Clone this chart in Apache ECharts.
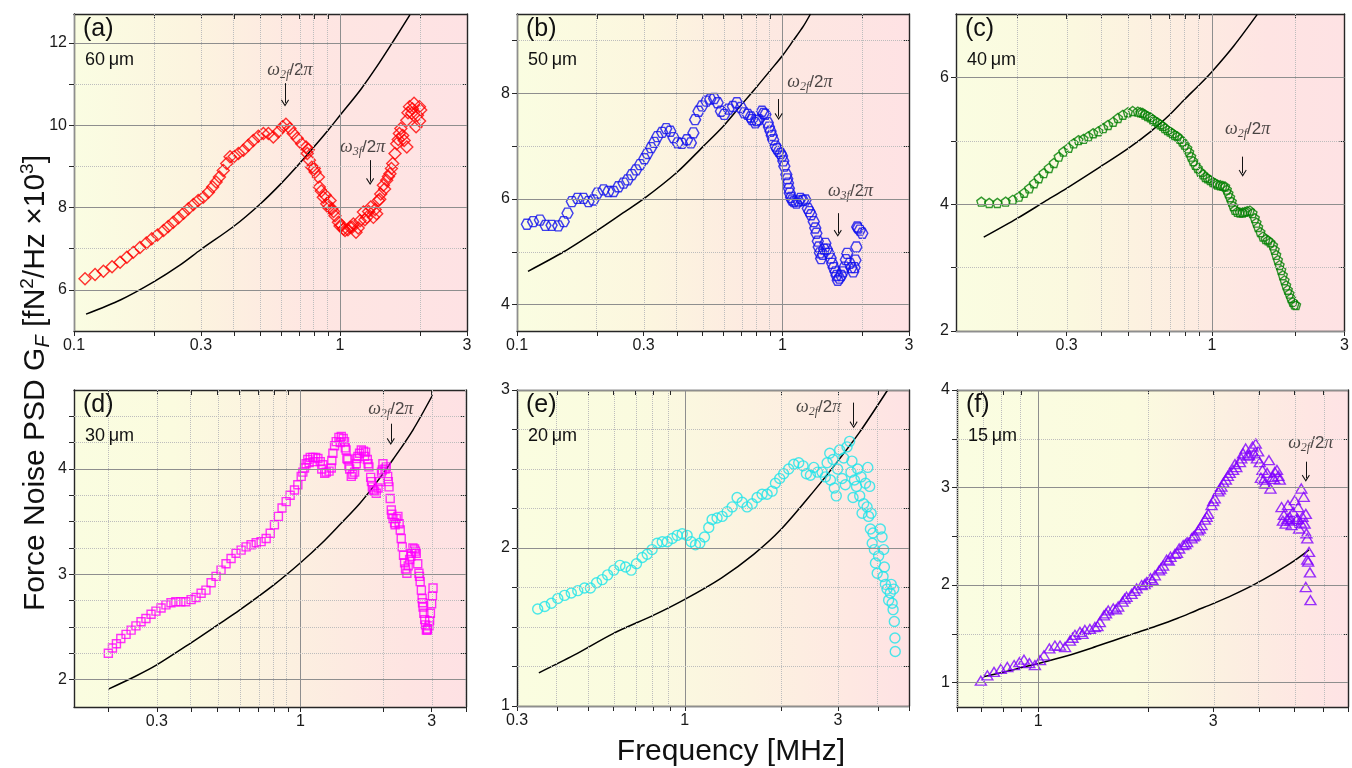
<!DOCTYPE html>
<html>
<head>
<meta charset="utf-8">
<script src="https://cdn.jsdelivr.net/npm/echarts@6/dist/echarts.min.js"></script>
<style>
  html, body { margin: 0; padding: 0; background: #ffffff; }
  #chart { width: 1352px; height: 768px; }
</style>
</head>
<body>
<div id="chart"></div>
<script>
// ---------- measured force-noise spectra: [frequency (MHz), G_F (fN^2/Hz x10^3)] ----------
const psd60um = [
  [0.110,6.27],[0.120,6.37],[0.129,6.45],[0.139,6.56],[0.149,6.67],[0.158,6.79],[0.167,6.91],[0.177,7.03],
  [0.187,7.14],[0.196,7.24],[0.206,7.33],[0.217,7.44],[0.226,7.54],[0.236,7.64],[0.247,7.75],[0.258,7.86],
  [0.269,7.97],[0.281,8.07],[0.293,8.17],[0.306,8.25],[0.320,8.37],[0.332,8.50],[0.342,8.62],[0.352,8.74],
  [0.364,8.90],[0.375,9.07],[0.386,9.23],[0.400,9.24],[0.415,9.31],[0.433,9.39],[0.452,9.51],[0.472,9.63],
  [0.493,9.73],[0.515,9.80],[0.538,9.80],[0.561,9.71],[0.586,9.84],[0.608,9.96],[0.626,10.02],[0.648,9.92],
  [0.667,9.80],[0.690,9.68],[0.717,9.55],[0.745,9.47],[0.753,9.31],[0.767,9.15],[0.783,8.98],[0.806,8.86],
  [0.829,8.74],[0.836,8.50],[0.865,8.25],[0.891,8.09],[0.917,8.17],[0.931,7.97],[0.957,7.80],[0.986,7.64],
  [1.014,7.56],[1.044,7.44],[1.091,7.52],[1.122,7.60],[1.148,7.40],[1.189,7.68],[1.224,7.89],[1.260,7.76],
  [1.304,8.01],[1.334,7.76],[1.373,7.85],[1.393,8.17],[1.422,8.33],[1.455,8.54],[1.497,8.66],[1.540,8.82],
  [1.577,9.07],[1.609,9.31],[1.633,9.55],[1.671,9.80],[1.692,9.92],[1.741,9.63],[1.782,9.47],[1.782,10.12],
  [1.824,10.45],[1.859,10.29],[1.897,10.53],[1.931,9.96],[1.954,10.24],[1.988,10.45],[2.010,10.37],
  [0.760,9.40],[0.800,8.95],[0.850,8.40],[0.880,8.30],[0.905,8.00],[0.945,7.90],[1.000,7.55],[1.030,7.48],
  [1.070,7.46],[1.110,7.52],[1.170,7.50],[1.240,7.70],[1.280,7.90],[1.355,7.95],[1.410,8.20],[1.470,8.45],
  [1.520,8.75],[1.560,8.95],[1.655,9.65],[1.720,9.75],[1.800,10.30],[1.870,10.40],[1.990,10.10]
];
const psd50um = [
  [0.109,5.52],[0.115,5.57],[0.122,5.60],[0.128,5.50],[0.135,5.50],[0.143,5.49],[0.150,5.57],[0.155,5.73],
  [0.161,5.95],[0.169,6.01],[0.178,6.01],[0.186,5.95],[0.194,5.98],[0.201,6.11],[0.212,6.17],[0.221,6.14],
  [0.231,6.14],[0.241,6.23],[0.252,6.30],[0.261,6.36],[0.271,6.46],[0.281,6.55],[0.291,6.65],[0.302,6.76],
  [0.310,6.86],[0.320,6.97],[0.329,7.07],[0.338,7.18],[0.352,7.26],[0.365,7.33],[0.378,7.28],[0.389,7.16],
  [0.403,7.06],[0.418,7.05],[0.437,7.12],[0.452,7.06],[0.462,7.25],[0.469,7.50],[0.483,7.66],[0.498,7.76],
  [0.517,7.85],[0.535,7.89],[0.553,7.90],[0.570,7.82],[0.587,7.66],[0.604,7.60],[0.627,7.70],[0.651,7.75],
  [0.674,7.82],[0.698,7.73],[0.719,7.63],[0.740,7.60],[0.769,7.50],[0.791,7.44],[0.815,7.50],[0.838,7.66],
  [0.863,7.60],[0.881,7.44],[0.902,7.28],[0.923,7.12],[0.942,7.00],[0.969,6.90],[0.997,6.81],[1.017,6.62],
  [1.035,6.46],[1.050,6.30],[1.066,6.11],[1.088,5.98],[1.105,5.95],[1.130,5.92],[1.150,5.96],[1.170,6.01],
  [1.195,5.97],[1.222,5.98],[1.247,5.82],[1.265,5.76],[1.283,5.70],[1.313,5.57],[1.330,5.45],[1.343,5.35],
  [1.371,5.09],[1.385,4.98],[1.399,4.87],[1.420,4.95],[1.452,5.16],[1.470,5.05],[1.495,4.97],[1.540,4.78],
  [1.560,4.70],[1.585,4.62],[1.617,4.46],[1.640,4.50],[1.666,4.55],[1.690,4.62],[1.715,4.71],[1.735,4.85],
  [1.754,4.97],[1.795,4.78],[1.820,4.70],[1.849,4.62],[1.870,4.70],[1.885,4.84],[1.901,5.09],[1.914,5.47],
  [1.930,5.45],[1.958,5.41],[2.000,5.35],
  [0.760,7.55],[0.800,7.48],[0.850,7.62],[0.890,7.36],[0.912,7.20],[0.955,6.95],[0.985,6.86],[1.008,6.72],
  [1.043,6.38],[1.058,6.20],[1.078,6.03],[1.360,5.20],[1.435,5.05],[1.520,4.88],[1.600,4.55]
];
const psd40um = [
  [0.148,4.04],[0.158,4.02],[0.169,4.02],[0.181,4.04],[0.192,4.07],[0.202,4.12],[0.211,4.18],[0.220,4.25],
  [0.229,4.33],[0.238,4.41],[0.248,4.49],[0.259,4.57],[0.270,4.65],[0.281,4.75],[0.292,4.83],[0.305,4.89],
  [0.318,4.96],[0.331,5.01],[0.345,5.03],[0.359,5.07],[0.374,5.12],[0.390,5.15],[0.406,5.20],[0.423,5.25],
  [0.441,5.30],[0.459,5.36],[0.478,5.41],[0.498,5.45],[0.519,5.47],
  [0.541,5.46],[0.553,5.45],[0.563,5.44],[0.574,5.415],[0.587,5.39],[0.600,5.37],[0.612,5.34],[0.623,5.315],
  [0.637,5.29],[0.651,5.26],[0.664,5.235],[0.677,5.20],[0.692,5.17],[0.707,5.145],[0.721,5.12],[0.735,5.09],
  [0.751,5.07],[0.767,5.03],[0.782,4.99],[0.797,4.94],[0.815,4.88],[0.828,4.82],[0.842,4.75],[0.856,4.68],
  [0.872,4.62],[0.889,4.57],[0.909,4.51],[0.929,4.47],[0.947,4.43],[0.965,4.41],[0.986,4.38],[1.008,4.35],
  [1.028,4.33],[1.047,4.31],[1.071,4.30],[1.094,4.29],[1.115,4.28],[1.131,4.23],[1.146,4.17],[1.162,4.11],
  [1.178,4.04],[1.194,3.97],[1.211,3.91],[1.234,3.88],[1.261,3.87],[1.289,3.87],[1.314,3.88],[1.339,3.89],
  [1.369,3.90],[1.399,3.86],[1.426,3.78],[1.446,3.71],[1.466,3.64],[1.494,3.56],[1.527,3.49],[1.561,3.45],
  [1.591,3.43],[1.622,3.40],[1.658,3.35],[1.681,3.28],[1.703,3.20],[1.727,3.12],[1.751,3.04],[1.775,2.96],
  [1.799,2.88],[1.824,2.80],[1.849,2.72],[1.874,2.65],[1.900,2.59],[1.926,2.52],[1.953,2.46],[1.980,2.42],
  [2.007,2.41]
];
const psd30um = [
  [0.200,2.25],[0.207,2.30],[0.214,2.34],[0.222,2.39],[0.232,2.43],[0.242,2.47],[0.252,2.51],[0.263,2.55],
  [0.274,2.58],[0.286,2.62],[0.298,2.65],[0.311,2.68],[0.324,2.71],[0.338,2.73],[0.352,2.74],[0.367,2.74],
  [0.383,2.74],[0.400,2.76],[0.417,2.78],[0.435,2.82],[0.453,2.85],[0.473,2.92],[0.493,2.98],[0.514,3.04],
  [0.536,3.10],[0.559,3.15],[0.583,3.20],[0.608,3.23],[0.634,3.26],[0.661,3.28],[0.690,3.30],[0.719,3.31],
  [0.750,3.34],[0.776,3.39],[0.804,3.47],[0.831,3.55],[0.857,3.63],[0.887,3.69],[0.917,3.75],[0.951,3.80],
  [0.978,3.85],[1.006,3.93],[1.034,4.01],[1.063,4.09],[1.085,4.11],[1.109,4.11],[1.135,4.11],[1.157,4.10],
  [1.180,4.07],[1.206,4.04],[1.241,3.97],[1.270,3.98],[1.294,4.01],[1.312,4.15],[1.330,4.22],[1.349,4.26],
  [1.380,4.30],[1.407,4.31],[1.430,4.29],[1.446,4.26],[1.465,4.18],[1.487,4.09],[1.510,4.00],[1.530,3.93],
  [1.574,3.97],[1.595,4.05],[1.618,4.12],[1.664,4.18],[1.695,4.17],[1.725,4.16],[1.750,4.09],[1.774,4.02],
  [1.800,3.92],[1.825,3.83],[1.860,3.79],[1.887,3.77],[1.940,3.88],[1.970,3.97],[1.995,4.05],[2.052,4.02],
  [2.075,3.93],[2.099,3.83],[2.120,3.72],[2.139,3.61],[2.170,3.53],[2.199,3.49],[2.230,3.53],[2.261,3.55],
  [2.306,3.42],[2.325,3.34],[2.345,3.26],[2.370,3.18],[2.391,3.11],[2.438,3.01],[2.465,3.08],[2.494,3.14],
  [2.530,3.20],[2.564,3.25],[2.600,3.24],[2.637,3.20],[2.670,3.10],[2.697,3.01],[2.725,2.93],[2.752,2.85],
  [2.770,2.77],[2.791,2.69],[2.810,2.63],[2.830,2.57],[2.850,2.52],[2.870,2.47],[2.900,2.48],[2.933,2.51],
  [2.969,2.63],[3.000,2.72],[3.020,2.79],[3.035,2.87],
  [1.020,3.97],[1.048,4.05],[1.075,4.06],[1.120,4.07],[1.195,4.00],[1.225,3.96],[1.300,4.08],[1.395,4.25],
  [1.455,4.20],[1.475,4.10],[1.500,4.03],[1.550,3.95],[1.605,4.10],[1.640,4.15],[1.710,4.12],[1.762,4.05],
  [1.812,3.88],[1.840,3.80],[1.915,3.82],[1.985,3.99],[2.030,4.00],[2.087,3.88],[2.150,3.57],[2.210,3.47],
  [2.285,3.48],[2.410,3.05],[2.520,3.17],[2.620,3.22],[2.710,2.98],[2.780,2.73],[2.890,2.47],[2.950,2.56]
];
const psd20um = [
  [0.348,1.614],[0.366,1.63],[0.384,1.65],[0.402,1.68],[0.422,1.70],[0.443,1.715],[0.464,1.73],[0.487,1.747],
  [0.508,1.747],[0.531,1.78],[0.553,1.80],[0.575,1.83],[0.601,1.86],[0.628,1.89],[0.654,1.88],[0.681,1.86],
  [0.707,1.90],[0.737,1.94],[0.764,1.96],[0.791,1.99],[0.820,2.03],[0.851,2.04],[0.882,2.04],[0.914,2.06],
  [0.947,2.08],[0.982,2.09],[1.017,2.08],[1.047,2.04],[1.080,2.02],[1.114,2.03],[1.152,2.07],[1.188,2.13],
  [1.217,2.18],[1.261,2.19],[1.308,2.20],[1.356,2.23],[1.405,2.26],[1.456,2.32],[1.510,2.29],[1.564,2.26],
  [1.622,2.28],[1.681,2.32],[1.742,2.34],[1.806,2.34],[1.872,2.36],[1.917,2.41],[1.977,2.44],[2.033,2.47],
  [2.108,2.50],[2.186,2.53],[2.266,2.54],[2.337,2.52],[2.394,2.47],[2.464,2.46],[2.525,2.51],[2.596,2.48],
  [2.679,2.48],[2.743,2.45],[2.778,2.54],[2.831,2.60],[2.845,2.43],[2.898,2.56],[2.925,2.38],[2.967,2.33],
  [2.995,2.50],[3.040,2.62],[3.093,2.44],[3.129,2.57],[3.166,2.40],[3.205,2.64],[3.265,2.675],[3.297,2.48],
  [3.320,2.55],[3.346,2.32],[3.380,2.43],[3.430,2.39],[3.460,2.50],[3.510,2.33],[3.545,2.45],[3.570,2.22],
  [3.610,2.28],[3.660,2.41],[3.700,2.26],[3.720,2.51],[3.740,2.20],[3.770,2.39],[3.790,2.12],[3.810,2.22],
  [3.840,2.03],[3.860,2.095],[3.900,1.99],[3.930,1.905],[3.980,1.84],[4.020,1.95],[4.070,2.12],[4.120,2.07],
  [4.150,1.82],[4.170,1.99],[4.190,1.88],[4.220,1.77],[4.270,1.74],[4.320,1.67],[4.370,1.715],[4.400,1.77],
  [4.430,1.65],[4.460,1.61],[4.480,1.74],[4.500,1.535],[4.520,1.43],[4.530,1.345]
];
const psd15um = [
  [0.697,1.02],[0.726,1.075],[0.757,1.11],[0.790,1.14],[0.823,1.16],[0.859,1.18],[0.888,1.21],[0.914,1.235],
  [0.945,1.20],[0.979,1.18],[1.011,1.23],[1.036,1.28],[1.072,1.35],[1.110,1.38],[1.146,1.38],[1.183,1.365],
  [1.220,1.43],[1.259,1.49],[1.299,1.52],[1.340,1.54],[1.383,1.55],[1.427,1.57],[1.472,1.62],[1.510,1.69],
  [1.552,1.74],[1.602,1.76],[1.652,1.78],[1.698,1.83],[1.741,1.88],[1.797,1.91],[1.855,1.965],[1.914,2.00],
  [1.975,2.03],[2.024,2.07],[2.080,2.10],[2.137,2.15],[2.190,2.20],[2.240,2.26],[2.295,2.29],[2.360,2.32],
  [2.424,2.375],[2.485,2.41],[2.548,2.44],[2.620,2.48],[2.675,2.51],[2.730,2.56],[2.790,2.615],[2.850,2.67],
  [2.910,2.73],[2.970,2.82],[3.030,2.89],[3.100,2.96],[3.160,3.01],[3.250,3.08],[3.330,3.15],[3.400,3.18],
  [3.470,3.21],[3.550,3.26],[3.620,3.35],[3.680,3.40],[3.760,3.33],[3.840,3.42],[3.920,3.45],[3.980,3.37],
  [4.020,3.26],[4.090,3.18],[4.150,3.04],[4.210,3.15],[4.260,3.28],[4.300,2.99],[4.360,3.11],[4.420,3.16],
  [4.480,3.18],[4.560,3.08],[4.610,2.80],[4.680,2.72],[4.730,2.63],[4.800,2.82],[4.850,2.70],[4.910,2.615],
  [4.960,2.75],[5.010,2.87],[5.060,2.67],[5.120,2.80],[5.150,2.58],[5.220,2.99],[5.260,2.70],[5.300,2.905],
  [5.330,2.63],[5.370,2.73],[5.390,2.53],[5.420,2.48],[5.480,2.34],[5.420,2.26],[5.450,2.24],[5.510,2.13],
  [5.370,1.98],[5.530,1.845],
  [1.240,1.46],[1.320,1.50],[1.450,1.58],[1.530,1.71],[1.630,1.75],[1.720,1.86],[1.830,1.94],[1.950,2.01],
  [2.050,2.05],[2.160,2.17],[2.270,2.25],[2.390,2.33],[2.520,2.42],[2.650,2.50],[2.760,2.58],[2.880,2.70],
  [3.000,2.86],[3.130,2.98],[3.200,3.05],[3.290,3.12],[3.440,3.24],[3.580,3.30],[3.720,3.33],[3.880,3.35],
  [3.950,3.30],[4.050,3.10],[4.120,3.08],[4.400,3.09],[4.520,3.12],[4.650,2.66],[4.780,2.68],[4.880,2.66],
  [5.100,2.68],[5.200,2.64]
];

// ---------- model curves: [frequency (MHz), G_F] ----------
const model60um = [[0.111,5.41],[0.15,5.76],[0.2,6.2],[0.25,6.6],[0.3,6.98],[0.4,7.55],[0.5,8.08],[0.6,8.58],[0.7,9.05],[0.8,9.48],[0.9,9.87],[1.0,10.24],[1.2,10.88],[1.4,11.5],[1.6,12.08],[1.83,12.68]];
const model50um = [[0.11,4.63],[0.15,5.0],[0.2,5.4],[0.25,5.73],[0.3,6.0],[0.4,6.5],[0.5,6.98],[0.6,7.38],[0.7,7.78],[0.8,8.12],[0.9,8.43],[1.0,8.71],[1.1,9.0],[1.2,9.27],[1.276,9.5]];
const model40um = [[0.151,3.48],[0.2,3.78],[0.25,4.04],[0.3,4.25],[0.4,4.6],[0.5,4.88],[0.6,5.14],[0.7,5.4],[0.8,5.66],[0.9,5.88],[1.0,6.09],[1.2,6.5],[1.454,6.99]];
const model30um = [[0.2,1.91],[0.25,2.03],[0.3,2.14],[0.4,2.35],[0.5,2.52],[0.6,2.66],[0.8,2.9],[1.0,3.11],[1.2,3.3],[1.4,3.48],[1.64,3.67],[1.9,3.88],[2.17,4.09],[2.564,4.37],[3.02,4.70]];
const model20um = [[0.351,1.21],[0.45,1.32],[0.6,1.46],[0.8,1.575],[1.0,1.675],[1.3,1.81],[1.64,1.96],[2.0,2.12],[2.525,2.36],[3.0,2.55],[3.5,2.73],[4.29,3.0]];
const model15um = [[0.708,1.06],[0.85,1.13],[1.0,1.195],[1.2,1.275],[1.4,1.355],[1.6,1.43],[1.815,1.50],[2.1,1.58],[2.4,1.66],[2.7,1.74],[3.0,1.81],[3.4,1.9],[3.855,2.0],[4.4,2.12],[5.0,2.25],[5.48,2.36]];

// ---------- resonance markers: arrow frequency, arrow span, label anchor ----------
const marks60um = [
  { order: '2f', f: 0.621, from: 11.02, to: 10.54, labelF: 0.648, labelG: 11.34 },
  { order: '3f', f: 1.297, from: 9.15, to: 8.63, labelF: 1.215, labelG: 9.47 }
];
const marks50um = [
  { order: '2f', f: 0.968, from: 7.89, to: 7.56, labelF: 1.27, labelG: 8.21 },
  { order: '3f', f: 1.617, from: 5.73, to: 5.35, labelF: 1.806, labelG: 6.14 }
];
const marks40um = [{ order: '2f', f: 1.29, from: 4.75, to: 4.49, labelF: 1.343, labelG: 5.18 }];
const marks30um = [{ order: '2f', f: 2.13, from: 4.43, to: 4.26, labelF: 2.13, labelG: 4.57 }];
const marks20um = [{ order: '2f', f: 3.36, from: 2.92, to: 2.78, labelF: 2.615, labelG: 2.89 }];
const marks15um = [{ order: '2f', f: 5.37, from: 3.265, to: 3.094, labelF: 5.54, labelG: 3.45 }];

// ---------- axis ranges and tick labels ----------
const freqRanges = [[0.1, 3], [0.1, 3], [0.12, 3], [0.15, 4], [0.3, 5], [0.6, 7]];
const psdRanges = [[5, 12.7], [3.5, 9.5], [2, 7], [1.74, 4.75], [1, 3], [0.75, 4]];
const freqLabels = [[0.1, 0.3, 1, 3], [0.1, 0.3, 1, 3], [0.3, 1, 3], [0.3, 1, 3], [0.3, 1, 3], [1, 3]];
const psdMajor = [[6, 8, 10, 12], [4, 6, 8], [2, 4, 6], [2, 3, 4], [1, 2, 3], [1, 2, 3, 4]];
const psdMinor = [[7, 9, 11], [5, 7, 9], [3, 5], [2.25, 2.5, 2.75, 3.25, 3.5, 3.75, 4.25, 4.5], [1.25, 1.5, 1.75, 2.25, 2.5, 2.75], [1.5, 2.5, 3.5]];
const panelTags = ['(a)', '(b)', '(c)', '(d)', '(e)', '(f)'];
const gapLabels = ['60\u2009\u03bcm', '50\u2009\u03bcm', '40\u2009\u03bcm', '30\u2009\u03bcm', '20\u2009\u03bcm', '15\u2009\u03bcm'];

// ---------- panel styling ----------
const HEX = 'path://M2.5,0 L7.5,0 L10,4.33 L7.5,8.66 L2.5,8.66 L0,4.33 Z';
const PENT = 'path://M5,0 L10,3.8 L8.1,10 L1.9,10 L0,3.8 Z';
const CHEVRON = 'path://M5,0 L10,8.6 L9,9.6 L5,2.8 L1,9.6 L0,8.6 Z';

const styles = [
  { box: [74, 14, 393, 317], symbol: 'diamond', size: 12, color: '#ff0000',
    bg: [[0, '#fafde2'], [0.3, '#fcf4df'], [0.6, '#fee6e2'], [1, '#fee2e4']] },
  { box: [517, 14, 392, 317], symbol: HEX, size: [11, 10], color: '#1010ee',
    bg: [[0, '#fafde1'], [0.33, '#fcf6df'], [0.62, '#fde9e1'], [1, '#fee2e4']] },
  { box: [956, 14, 393, 317], symbol: PENT, size: 9, color: '#008000',
    bg: [[0, '#fafde1'], [0.3, '#fbf8df'], [0.6, '#fdece1'], [0.8, '#fee4e3'], [1, '#fee2e4']] },
  { box: [74, 390, 392, 317], symbol: 'rect', size: 8, color: '#ff00ff',
    bg: [[0, '#fafde0'], [0.25, '#fbfbdf'], [0.55, '#fcf0e0'], [0.85, '#fee4e2'], [1, '#fee1e4']] },
  { box: [517, 390, 392, 316], symbol: 'circle', size: 10, color: '#1ee3ea',
    bg: [[0, '#fafde0'], [0.3, '#fafbdf'], [0.6, '#fcf2e0'], [0.85, '#fee8e2'], [1, '#fee2e4']] },
  { box: [957, 390, 391, 317], symbol: 'triangle', size: [11, 9], color: '#8000ff',
    bg: [[0, '#fafde1'], [0.45, '#fbfbdf'], [0.7, '#fcefe1'], [0.9, '#fee6e3'], [1, '#fee3e5']] }
];

const spectra = [psd60um, psd50um, psd40um, psd30um, psd20um, psd15um];
const models = [model60um, model50um, model40um, model30um, model20um, model15um];
const marks = [marks60um, marks50um, marks40um, marks30um, marks20um, marks15um];

const lg = Math.log10;
const toXY = pts => pts.map(([f, g]) => [lg(f), g]);

// log-decade tick positions (1..9 x 10^n) inside a frequency range
function decadeTicks([lo, hi]) {
  const out = [];
  for (let e = Math.floor(lg(lo)); e <= Math.ceil(lg(hi)); e++) {
    for (let k = 1; k <= 9; k++) {
      const v = k * Math.pow(10, e);
      if (v >= lo * 0.999 && v <= hi * 1.001) out.push({ v, major: k === 1 });
    }
  }
  return out;
}

const SANS = 'Liberation Sans';
const SERIF = 'Liberation Serif';
const INK = '#262626';

const grid = [], xAxis = [], yAxis = [], series = [], graphic = [];

styles.forEach((st, i) => {
  const [L, T, W, H] = st.box;
  grid.push({
    left: L, top: T, width: W, height: H, show: true, borderWidth: 0,
    backgroundColor: { type: 'linear', x: 0, y: 0, x2: 1, y2: 0,
      colorStops: st.bg.map(([offset, color]) => ({ offset, color })) }
  });

  const xr = freqRanges[i], yr = psdRanges[i];
  const xt = decadeTicks(xr);
  const xTickVals = xt.map(t => lg(t.v));
  const yTickVals = psdMajor[i].concat(psdMinor[i]);
  const axisLine = { show: true, onZero: false, lineStyle: { color: INK, width: 1.4 } };
  const ticks = (inside, vals) => ({ show: true, inside, length: 5, customValues: vals, lineStyle: { color: INK, width: 1 } });
  const lab = { fontFamily: SANS, fontSize: 16, color: '#1a1a1a', margin: 7 };

  xAxis.push({
    gridIndex: i, type: 'value', position: 'bottom', min: lg(xr[0]), max: lg(xr[1]),
    axisLine, axisTick: ticks(false, xTickVals),
    axisLabel: Object.assign({}, lab, {
      customValues: freqLabels[i].map(lg),
      formatter: v => String(+Math.pow(10, v).toPrecision(2))
    }),
    splitLine: { show: false }
  });
  xAxis.push({
    gridIndex: i, type: 'value', position: 'top', min: lg(xr[0]), max: lg(xr[1]),
    axisLine, axisTick: ticks(true, xTickVals), axisLabel: { show: false }, splitLine: { show: false }
  });
  yAxis.push({
    gridIndex: i, type: 'value', position: 'left', min: yr[0], max: yr[1],
    axisLine, axisTick: ticks(false, yTickVals),
    axisLabel: Object.assign({}, lab, { customValues: psdMajor[i] }),
    splitLine: { show: false }
  });
  yAxis.push({
    gridIndex: i, type: 'value', position: 'right', min: yr[0], max: yr[1],
    axisLine, axisTick: ticks(true, yTickVals), axisLabel: { show: false }, splitLine: { show: false }
  });

  const xi = 2 * i, yi = 2 * i;
  const solid = { type: 'solid', color: '#8e8e8e', width: 1 };
  const dotted = { type: 'dotted', color: '#bdbdbd', width: 1 };
  const gridLines = []
    .concat(xt.map(t => ({ xAxis: lg(t.v), lineStyle: t.major ? solid : dotted })))
    .concat(psdMajor[i].map(v => ({ yAxis: v, lineStyle: solid })))
    .concat(psdMinor[i].map(v => ({ yAxis: v, lineStyle: dotted })));

  // grid lines
  series.push({
    type: 'line', xAxisIndex: xi, yAxisIndex: yi, data: [], silent: true, z: 1,
    markLine: { silent: true, symbol: ['none', 'none'], label: { show: false }, animation: false,
      emphasis: { disabled: true }, data: gridLines }
  });
  // model curve
  series.push({
    type: 'line', xAxisIndex: xi, yAxisIndex: yi, data: toXY(models[i]), smooth: 0.3,
    symbol: 'none', silent: true, z: 2,
    lineStyle: { color: '#000000', width: 1.5 }
  });
  // measured spectrum
  series.push({
    type: 'scatter', xAxisIndex: xi, yAxisIndex: yi, data: toXY(spectra[i]), silent: true, z: 3,
    symbol: st.symbol, symbolSize: st.size,
    itemStyle: { color: 'rgba(0,0,0,0)', borderColor: st.color, borderWidth: 1.4 },
    emphasis: { disabled: true }
  });
  // resonance markers
  series.push({
    type: 'scatter', xAxisIndex: xi, yAxisIndex: yi, silent: true, z: 4,
    data: marks[i].map(m => [lg(m.labelF), m.labelG, m.order]),
    symbolSize: 1, itemStyle: { color: 'rgba(0,0,0,0)' },
    label: {
      show: true, position: 'inside',
      formatter: p => '{w|\u03c9}{s|' + p.value[2] + '}{n|/2}{w|\u03c0}',
      rich: {
        w: { fontFamily: SERIF, fontStyle: 'italic', fontSize: 18, lineHeight: 21, color: '#1a1a1a' },
        s: { fontFamily: SERIF, fontStyle: 'italic', fontSize: 12, lineHeight: 12, verticalAlign: 'bottom', color: '#1a1a1a' },
        n: { fontFamily: SANS, fontSize: 17, lineHeight: 21, color: '#1a1a1a' }
      }
    },
    markLine: {
      silent: true, animation: false, symbol: ['none', CHEVRON], symbolSize: [8, 7],
      label: { show: false }, emphasis: { disabled: true },
      lineStyle: { color: '#111111', width: 1, type: 'solid' },
      data: marks[i].map(m => [{ coord: [lg(m.f), m.from] }, { coord: [lg(m.f), m.to] }])
    }
  });

  graphic.push({
    type: 'text', left: L + 9, top: T + 3, z: 20,
    style: { text: panelTags[i], fontFamily: SANS, fontSize: 25, fill: '#111111' }
  });
  graphic.push({
    type: 'text', left: L + 11, top: T + 37, z: 20,
    style: { text: gapLabels[i], fontFamily: SANS, fontSize: 18, fill: '#111111' }
  });
});

// shared axis titles
graphic.push({
  type: 'text', x: 36, y: 383, rotation: Math.PI / 2, z: 20,
  style: {
    text: '{t|Force Noise PSD G}{sub|F}{t| [fN}{sup|2}{t|/Hz \u00d710}{sup|3}{t|]}',
    align: 'center', verticalAlign: 'middle',
    rich: {
      t: { fontFamily: SANS, fontSize: 30, lineHeight: 35, fill: '#111111' },
      sub: { fontFamily: SANS, fontStyle: 'italic', fontSize: 20, lineHeight: 20, verticalAlign: 'bottom', fill: '#111111' },
      sup: { fontFamily: SANS, fontSize: 19, lineHeight: 19, verticalAlign: 'top', fill: '#111111' }
    }
  }
});
graphic.push({
  type: 'text', x: 731, y: 752, z: 20,
  style: { text: 'Frequency [MHz]', fontFamily: SANS, fontSize: 30, fill: '#111111', align: 'center', verticalAlign: 'middle' }
});

const chart = echarts.init(document.getElementById('chart'), null, { renderer: 'canvas' });
chart.setOption({
  animation: false,
  backgroundColor: '#ffffff',
  grid, xAxis, yAxis, series, graphic
});
</script>
</body>
</html>
